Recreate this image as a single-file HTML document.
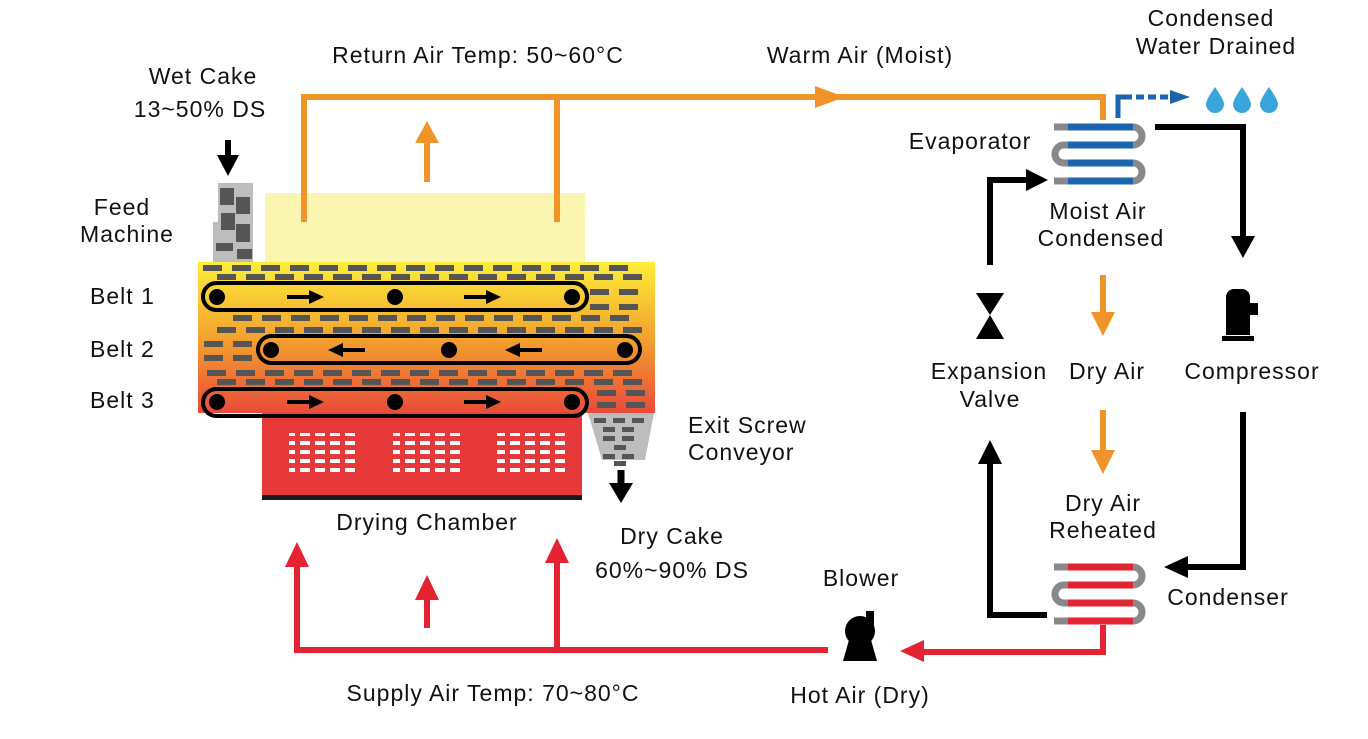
<!DOCTYPE html>
<html><head><meta charset="utf-8"><style>
body{margin:0;background:#fff;}
svg text{font-family:"Liberation Sans",sans-serif;font-size:23px;letter-spacing:1px;fill:#111;}
</style></head><body>
<svg width="1368" height="734" viewBox="0 0 1368 734" xmlns="http://www.w3.org/2000/svg">
<defs>
<linearGradient id="g" x1="0" y1="0" x2="0" y2="1">
<stop offset="0" stop-color="#FDEE3A"/><stop offset="0.5" stop-color="#F3A22E"/><stop offset="1" stop-color="#EA4B3A"/>
</linearGradient>
<pattern id="row" x="0" y="0" width="29" height="6" patternUnits="userSpaceOnUse">
<rect x="0" y="0" width="19" height="6" fill="#555"/>
</pattern>
<pattern id="vents" x="0" y="0" width="15" height="9" patternUnits="userSpaceOnUse">
<rect x="0" y="0" width="10" height="4" fill="#fff"/>
</pattern>
</defs>

<rect x="265" y="193" width="320" height="70" fill="#FAF5B0"/>
<rect x="218" y="183" width="35" height="80" fill="#BDBDBD"/>
<rect x="213" y="222" width="6" height="41" fill="#BDBDBD"/>
<rect x="220" y="188" width="14" height="17" fill="#555"/><rect x="236" y="197" width="14" height="17" fill="#555"/>
<rect x="221" y="213" width="14" height="17" fill="#555"/><rect x="236" y="224" width="14" height="18" fill="#555"/>
<rect x="216" y="243" width="17" height="8" fill="#555"/><rect x="237" y="249" width="15" height="10" fill="#555"/>

<rect x="198" y="262" width="457" height="151" fill="url(#g)"/>
<g fill="url(#row)">
<rect transform="translate(203,265)" x="0" y="0" width="430" height="6"/>
<rect transform="translate(217,274)" x="0" y="0" width="430" height="6"/>
<rect transform="translate(590,289)" x="0" y="0" width="48" height="6"/>
<rect transform="translate(590,304)" x="0" y="0" width="48" height="6"/>
<rect transform="translate(233,315)" x="0" y="0" width="400" height="6"/>
<rect transform="translate(217,327)" x="0" y="0" width="430" height="6"/>
<rect transform="translate(204,341)" x="0" y="0" width="48" height="6"/>
<rect transform="translate(204,355)" x="0" y="0" width="48" height="6"/>
<rect transform="translate(207,370)" x="0" y="0" width="430" height="6"/>
<rect transform="translate(217,379)" x="0" y="0" width="430" height="6"/>
<rect transform="translate(597,390)" x="0" y="0" width="48" height="6"/>
<rect transform="translate(597,402)" x="0" y="0" width="48" height="6"/>
</g>
<rect x="262" y="413" width="320" height="84" fill="#E8393A"/>
<rect x="262" y="495" width="320" height="5" fill="#1a1a1a"/>
<rect x="289" y="433" width="70" height="44" fill="url(#vents)"/>
<rect x="393" y="433" width="70" height="44" fill="url(#vents)"/>
<rect x="497" y="433" width="70" height="44" fill="url(#vents)"/>
<polygon points="588,413 654,413 645,460 602,460" fill="#BDBDBD"/>
<g fill="#555"><rect x="594" y="418" width="12" height="5"/><rect x="613" y="418" width="12" height="5"/><rect x="632" y="418" width="12" height="5"/>
<rect x="603" y="427" width="12" height="5"/><rect x="622" y="427" width="12" height="5"/><rect x="603" y="436" width="12" height="5"/><rect x="622" y="436" width="12" height="5"/>
<rect x="614" y="445" width="12" height="5"/><rect x="603" y="454" width="12" height="5"/><rect x="622" y="454" width="12" height="5"/><rect x="614" y="461" width="12" height="5"/></g>
<path d="M621 470 V490" stroke="#000" stroke-width="7"/><polygon points="609,483 633,483 621,503" fill="#000"/>

<g fill="none" stroke="#000" stroke-width="4">
<rect x="203" y="283" width="384" height="27" rx="13.5"/>
<rect x="258" y="336" width="382" height="27" rx="13.5"/>
<rect x="203" y="389" width="384" height="27" rx="13.5"/>
</g>
<g fill="#000">
<circle cx="217" cy="297" r="8"/><circle cx="395" cy="297" r="8"/><circle cx="572" cy="297" r="8"/>
<circle cx="271" cy="350" r="8"/><circle cx="449" cy="350" r="8"/><circle cx="625" cy="350" r="8"/>
<circle cx="217" cy="402" r="8"/><circle cx="395" cy="402" r="8"/><circle cx="572" cy="402" r="8"/>
<path d="M287 295h22v4h-22zM309 290l15 7-15 7z"/><path d="M464 295h22v4h-22zM486 290l15 7-15 7z"/>
<path d="M365 348h-22v4h22zM343 343l-15 7 15 7z"/><path d="M542 348h-22v4h22zM520 343l-15 7 15 7z"/>
<path d="M287 400h22v4h-22zM309 395l15 7-15 7z"/><path d="M464 400h22v4h-22zM486 395l15 7-15 7z"/>
</g>
<path d="M228 140V160" stroke="#000" stroke-width="6"/><polygon points="217,155 239,155 228,176" fill="#000"/>

<g stroke="#F0942A" stroke-width="6" fill="none">
<path d="M304 222V97H1103V120"/><path d="M557 97V222"/>
<path d="M427 182V140"/><path d="M1103 275V318"/><path d="M1103 410V455"/>
</g>
<g fill="#F0942A">
<polygon points="815,86 845,97 815,108"/><polygon points="415,143 439,143 427,121"/>
<polygon points="1091,312 1115,312 1103,336"/><polygon points="1091,450 1115,450 1103,474"/>
</g>

<path d="M1118 118V97H1132" stroke="#1B64AE" stroke-width="5" fill="none"/>
<path d="M1136 97H1170" stroke="#1B64AE" stroke-width="5" stroke-dasharray="8,4"/>
<polygon points="1170,90 1190,97 1170,104" fill="#1B64AE"/>
<g fill="#3AA5DC">
<path d="M1215 87 Q1206 100 1206 104 A9 9 0 0 0 1224 104 Q1224 100 1215 87z"/>
<path d="M1242 87 Q1233 100 1233 104 A9 9 0 0 0 1251 104 Q1251 100 1242 87z"/>
<path d="M1269 87 Q1260 100 1260 104 A9 9 0 0 0 1278 104 Q1278 100 1269 87z"/>
</g>

<g fill="none" stroke-width="7">
<path d="M1054 127H1133A9 9 0 0 1 1133 145H1064A9 9 0 0 0 1064 163H1133A9 9 0 0 1 1133 181H1054" stroke="#888"/>
<path d="M1068 127H1133M1068 145H1133M1068 163H1133M1068 181H1133" stroke="#1B64AE"/>
</g>
<g fill="none" stroke-width="7">
<path d="M1054 567H1133A9 9 0 0 1 1133 585H1064A9 9 0 0 0 1064 603H1133A9 9 0 0 1 1133 621H1054" stroke="#888"/>
<path d="M1068 567H1133M1068 585H1133M1068 603H1133M1068 621H1133" stroke="#E32232"/>
</g>

<g stroke="#000" stroke-width="6" fill="none">
<path d="M1155 127H1243V240"/><path d="M1243 412V567H1185"/>
<path d="M1047 615H990V460"/><path d="M990 265V180H1030"/>
</g>
<g fill="#000">
<polygon points="1231,236 1255,236 1243,258"/><polygon points="1188,556 1188,578 1164,567"/>
<polygon points="978,464 1002,464 990,440"/><polygon points="1026,169 1026,191 1048,180"/>
<polygon points="976,293 1004,293 990,315"/><polygon points="976,339 1004,339 990,315"/>
<path d="M1226 297a8 8 0 0 1 8-8h8a8 8 0 0 1 8 8v6h8v12h-8v20h-24z"/><rect x="1222" y="336" width="32" height="5"/>
<circle cx="860" cy="631" r="15"/><rect x="866" y="611" width="8" height="18"/><polygon points="849,640 871,640 877,661 843,661"/>
</g>

<g stroke="#E32232" stroke-width="6" fill="none">
<path d="M1103 625V652H920"/><path d="M828 650H297V565"/><path d="M557 650V560"/><path d="M427 628V598"/>
</g>
<g fill="#E32232">
<polygon points="924,640 924,662 900,651"/><polygon points="285,567 309,567 297,542"/>
<polygon points="545,563 569,563 557,538"/><polygon points="415,600 439,600 427,575"/>
</g>

<text x="203" y="84" text-anchor="middle">Wet Cake</text>
<text x="200" y="117" text-anchor="middle">13~50% DS</text>
<text x="478" y="63" text-anchor="middle">Return Air Temp: 50~60°C</text>
<text x="860" y="63" text-anchor="middle">Warm Air (Moist)</text>
<text x="1211" y="26" text-anchor="middle">Condensed</text>
<text x="1216" y="54" text-anchor="middle">Water Drained</text>
<text x="970" y="149" text-anchor="middle">Evaporator</text>
<text x="122" y="215" text-anchor="middle">Feed</text>
<text x="127" y="242" text-anchor="middle">Machine</text>
<text x="1098" y="219" text-anchor="middle">Moist Air</text>
<text x="1101" y="246" text-anchor="middle">Condensed</text>
<text x="90" y="304">Belt 1</text>
<text x="90" y="357">Belt 2</text>
<text x="90" y="408">Belt 3</text>
<text x="989" y="379" text-anchor="middle">Expansion</text>
<text x="990" y="407" text-anchor="middle">Valve</text>
<text x="1107" y="379" text-anchor="middle">Dry Air</text>
<text x="1252" y="379" text-anchor="middle">Compressor</text>
<text x="688" y="433">Exit Screw</text>
<text x="688" y="460">Conveyor</text>
<text x="1103" y="511" text-anchor="middle">Dry Air</text>
<text x="1103" y="538" text-anchor="middle">Reheated</text>
<text x="427" y="530" text-anchor="middle">Drying Chamber</text>
<text x="672" y="544" text-anchor="middle">Dry Cake</text>
<text x="672" y="578" text-anchor="middle">60%~90% DS</text>
<text x="861" y="586" text-anchor="middle">Blower</text>
<text x="1228" y="605" text-anchor="middle">Condenser</text>
<text x="493" y="701" text-anchor="middle">Supply Air Temp: 70~80°C</text>
<text x="860" y="703" text-anchor="middle">Hot Air (Dry)</text>
</svg>
</body></html>
